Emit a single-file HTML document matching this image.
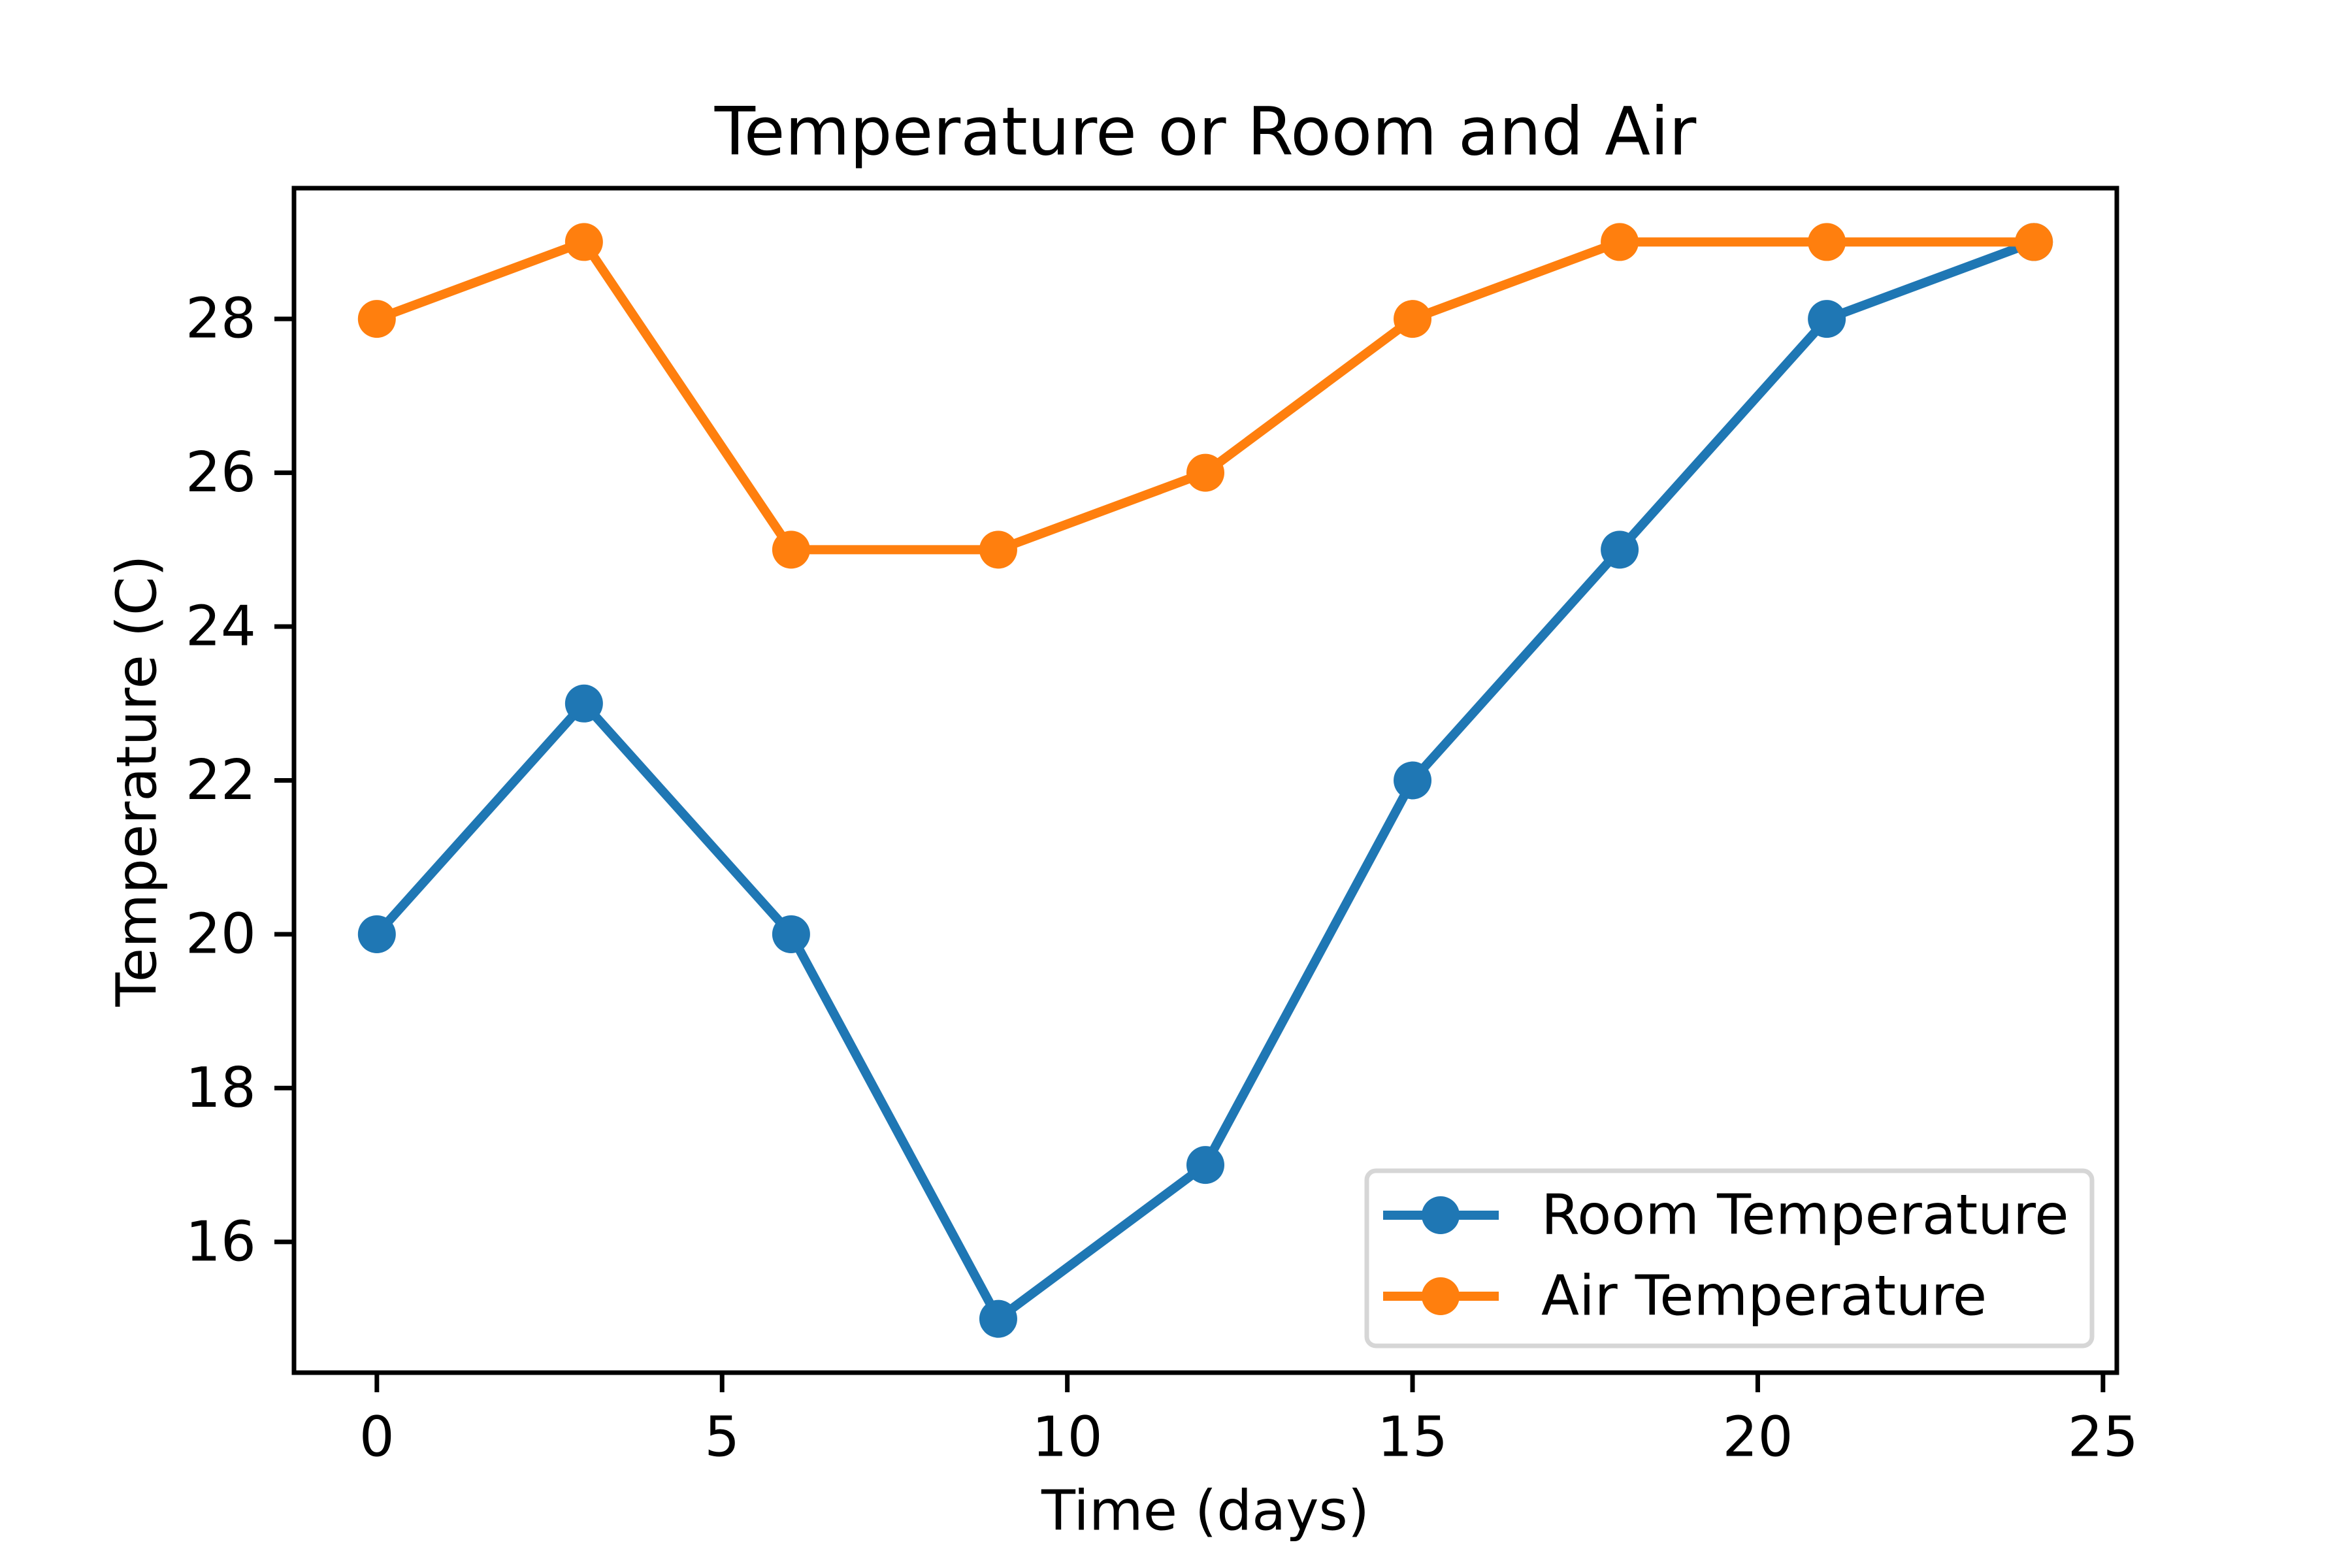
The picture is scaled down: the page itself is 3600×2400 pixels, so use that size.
<!DOCTYPE html>
<html><head><meta charset="utf-8"><style>
html,body{margin:0;padding:0;background:#fff}
svg{display:block;font-family:"DejaVu Sans","Liberation Sans",sans-serif}
</style></head><body>
<svg id="chart" width="3600" height="2400" viewBox="0 0 3600 2400" xmlns="http://www.w3.org/2000/svg">
<rect width="3600" height="2400" fill="#fff"/>
<text x="1845" y="202" font-size="102" text-anchor="middle" dominant-baseline="central">Temperature or Room and Air</text>
<g id="plot"></g>
<text x="1845" y="2313" font-size="85" text-anchor="middle" dominant-baseline="central">Time (days)</text>
<text x="210" y="1195" font-size="85" text-anchor="middle" dominant-baseline="central" transform="rotate(-90 210 1195)">Temperature (C)</text>
</svg>
<script>
const days = [0, 3, 6, 9, 12, 15, 18, 21, 24];
const roomTemp = [20, 23, 20, 15, 17, 22, 25, 28, 29];
const airTemp = [28, 29, 25, 25, 26, 28, 29, 29, 29];
const xTicks = [0, 5, 10, 15, 20, 25];
const yTicks = [16, 18, 20, 22, 24, 26, 28];
const seriesNames = ["Room Temperature", "Air Temperature"];

const NS = "http://www.w3.org/2000/svg";
const L = 450, R = 3240, T = 288, B = 2101;
const allX = days, allY = roomTemp.concat(airTemp);
const xmin0 = Math.min(...allX), xmax0 = Math.max(...allX);
const ymin0 = Math.min(...allY), ymax0 = Math.max(...allY);
const xmin = xmin0 - 0.05*(xmax0-xmin0), xmax = xmax0 + 0.05*(xmax0-xmin0);
const ymin = ymin0 - 0.05*(ymax0-ymin0), ymax = ymax0 + 0.05*(ymax0-ymin0);
function sx(v){return L + (v - xmin)/(xmax - xmin)*(R - L);}
function sy(v){return B - (v - ymin)/(ymax - ymin)*(B - T);}
function mk(tag, attrs, parent){const e=document.createElementNS(NS,tag);for(const k in attrs)e.setAttribute(k,attrs[k]);parent.appendChild(e);return e;}
const plot = document.getElementById('plot');
const colors = ["#1f77b4", "#ff7f0e"];
const data = [roomTemp, airTemp];

data.forEach((vals, si) => {
  const g = mk('g', {}, plot);
  
  
  const pts = vals.map((v, i) => sx(days[i]) + ',' + sy(v)).join(' ');
  const pl = mk('polyline', {points: pts, fill: 'none', stroke: colors[si], 'stroke-width': 14, 'stroke-linejoin': 'round', 'stroke-linecap': 'square'}, g);
  
  
  vals.forEach((v, i) => {
    const c = mk('circle', {cx: sx(days[i]), cy: sy(v), r: 29, fill: colors[si]}, g);
    
    
  });
});

const frame = mk('rect', {x: L, y: T, width: R - L, height: B - T, fill: 'none', stroke: '#000', 'stroke-width': 7}, plot);



xTicks.forEach(t => {
  const x = sx(t);
  const ln = mk('line', {x1: x, x2: x, y1: B, y2: B + 30, stroke: '#000', 'stroke-width': 7}, plot);
  
  
  const tx = mk('text', {x: x, y: 2200, 'font-size': 85, 'text-anchor': 'middle', 'dominant-baseline': 'central'}, plot);
  tx.textContent = t;
  
  
});
yTicks.forEach(t => {
  const y = sy(t);
  const ln = mk('line', {x1: L - 30, x2: L, y1: y, y2: y, stroke: '#000', 'stroke-width': 7}, plot);
  
  
  const tx = mk('text', {x: L - 58, y: y, 'font-size': 85, 'text-anchor': 'end', 'dominant-baseline': 'central'}, plot);
  tx.textContent = t;
  
  
});

const lg = mk('g', {}, plot);


const box = mk('rect', {x: 2092, y: 1792, width: 1110, height: 268, rx: 14, fill: '#fff', 'fill-opacity': 0.8, stroke: '#d6d6d6', 'stroke-width': 7}, lg);


seriesNames.forEach((name, i) => {
  const y = 1860 + i * 124;
  const e = mk('g', {}, lg);
  
  
  mk('line', {x1: 2117, x2: 2294, y1: y, y2: y, stroke: colors[i], 'stroke-width': 14}, e);
  mk('circle', {cx: 2205, cy: y, r: 29, fill: colors[i]}, e);
  const tx = mk('text', {x: 2359, y: y, 'font-size': 85, 'dominant-baseline': 'central'}, e);
  tx.textContent = name;
});
</script>
</body></html>
